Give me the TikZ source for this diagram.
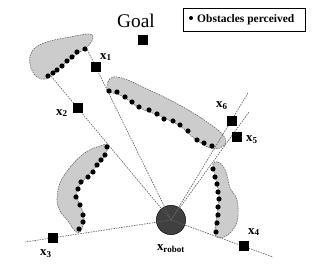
\documentclass[tikz,border=0pt]{standalone}
\usepackage{fontspec}
\setmainfont{Liberation Serif}
\usetikzlibrary{positioning}
\definecolor{BlobGray}{gray}{0.80}
\definecolor{RayGray}{gray}{0.38}
\definecolor{RobotGray}{gray}{0.25}
\newcommand{\xlab}[1]{\textbf{x}\textsubscript{\textbf{#1}}}
\tikzset{
  sample/.style={
    draw=black,
    fill=black,
    minimum size=0.27cm,
    inner sep=0pt
  },
  robotdisc/.style={
    circle,
    draw=black,
    fill=RobotGray,
    minimum size=0.88cm,
    inner sep=0pt
  },
  ray/.style={
    draw=RayGray,
    line width=0.55pt,
    dash pattern=on 1.3pt off 0.9pt
  },
  blob/.style={
    draw=RayGray,
    fill=BlobGray,
    line width=0.5pt,
    dash pattern=on 1.3pt off 0.9pt
  },
  percept/.style={
    circle,
    fill=black,
    minimum size=0.155cm,
    inner sep=0pt
  },
  xtag/.style={
    inner sep=0pt,
    font=\fontsize{11}{12}\selectfont
  },
  legendbox/.style={
    draw=black,
    line width=0.6pt,
    minimum width=3.66cm,
    minimum height=0.69cm,
    inner sep=0pt
  }
}

\begin{document}
\begin{tikzpicture}[x=0.03cm, y=-0.03cm]
\useasboundingbox (0,0) rectangle (320,267);

% obstacles
\draw[blob] plot[smooth cycle, tension=0.6] coordinates {
  (46,79) (37,77) (31,68) (30,56) (36,47) (50,41) (70,37) (88,34)
  (93,37) (89,45) (80,52) (68,61) (56,71)};
\draw[blob] plot[smooth cycle, tension=0.6] coordinates {
  (108,91) (108,82) (113,77) (125,79) (145,88) (168,99) (190,111)
  (210,124) (222,134) (226,142) (220,148) (210,148) (195,139)
  (180,126) (160,116) (140,108) (122,96)};
\draw[blob] plot[smooth cycle, tension=0.6] coordinates {
  (108,145) (100,146) (86,152) (71,166) (60,183) (57,200) (60,211)
  (68,221) (75,231) (80,232) (84,222) (83,212) (78,200) (77,190)
  (84,180) (95,168) (104,157)};
\draw[blob] plot[smooth cycle, tension=0.6] coordinates {
  (213,164) (218,162) (223,166) (227,175) (230,188) (236,197)
  (238,207) (237,222) (230,233) (221,238) (215,235) (216,222)
  (218,207) (219,195) (216,180)};

% robot and ray ends
\node[robotdisc] (robot) at (171,220) {};
\coordinate (e1) at (87,49);
\coordinate (e2) at (51,76);
\coordinate (e3) at (25,242);
\coordinate (e4) at (273,257);
\coordinate (e5) at (249,112);
\coordinate (e6) at (248,93);
\foreach \i in {1,...,6}
  \draw[ray] (robot.center) -- (e\i);

% perceived points
\foreach \p in {(85,49),(77,52),(72,57),(67,61),(62,66),(57,70),(53,73),(48,76),
  (109,91),(117,92),(125,97),(132,102),(139,107),(149,110),(157,114),
  (164,119),(173,121),(180,125),(188,131),(197,140),(204,143),(212,146),
  (107,147),(105,155),(101,160),(97,165),(93,172),(88,177),(81,182),
  (78,189),(76,197),(80,205),(83,215),(83,222),(79,229),
  (213,169),(215,177),(217,184),(218,192),(219,199),(218,207),(218,215),
  (217,223),(216,232)}
  \node[percept] at \p {};

% samples
\node[sample] (goal) at (143,40) {};
\node[sample] (x1) at (96,67) {};
\node[sample] (x2) at (78,108) {};
\node[sample] (x3) at (53,238) {};
\node[sample] (x4) at (244,246) {};
\node[sample] (x5) at (237,137) {};
\node[sample] (x6) at (232,121) {};

\node[font=\fontsize{16.5}{18}\selectfont, inner sep=0pt] (goaltext) at (136,21) {Goal};
\node[xtag] (l1) at (106,57) {\xlab{1}};
\node[xtag] (l2) at (62,113) {\xlab{2}};
\node[xtag] (l3) at (46,254) {\xlab{3}};
\node[xtag] (l4) at (254,232) {\xlab{4}};
\node[xtag] (l5) at (252,140) {\xlab{5}};
\node[xtag] (l6) at (222,106) {\xlab{6}};
\node[xtag] (lrobot) at (171,249) {\xlab{robot}};

% legend
\node[legendbox] (legend) at (244,19.5) {};
\node[percept, minimum size=0.12cm] (legdot) at (191,18) {};
\node[font=\bfseries\fontsize{9.8}{11}\selectfont, inner sep=0pt, anchor=west] (legtext) at (197,19.5) {Obstacles perceived};
\end{tikzpicture}
\end{document}
